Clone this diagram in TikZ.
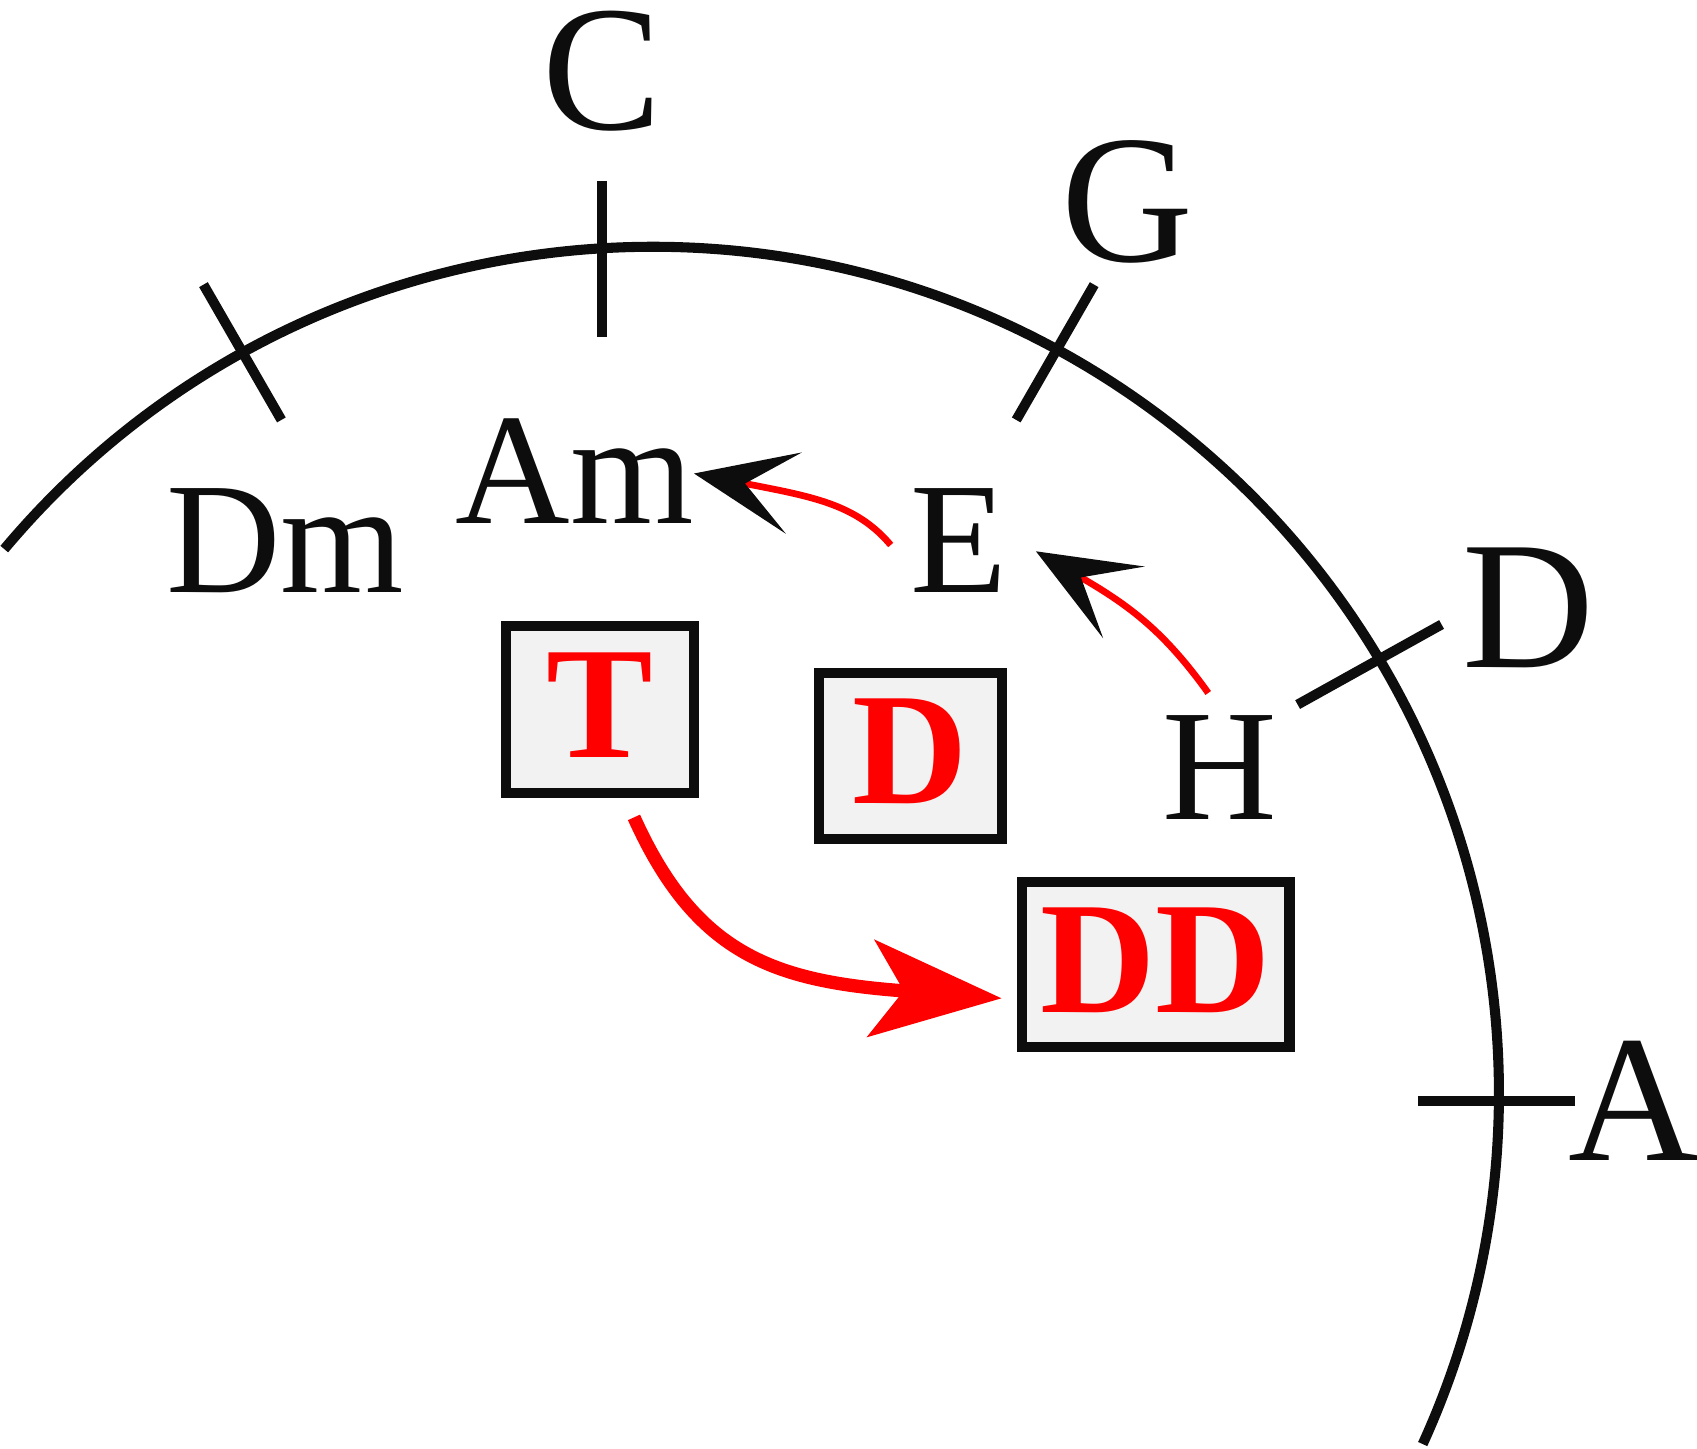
\documentclass[tikz,border=0pt]{standalone}
\usepackage{fontspec}
\setmainfont{Liberation Serif}
\usetikzlibrary{arrows.meta}
\definecolor{ink}{HTML}{0D0D0D}
\definecolor{hred}{HTML}{FF0000}
\definecolor{boxfill}{HTML}{F2F2F2}
\begin{document}
\begin{tikzpicture}[x=0.01cm, y=-0.01cm,
  chordsmall/.style={font=\fontsize{41.7}{50}\selectfont, text=ink, inner sep=0pt, outer sep=0pt, anchor=base},
  chordbig/.style={font=\fontsize{48}{58}\selectfont, text=ink, inner sep=0pt, outer sep=0pt, anchor=base},
  fnbox/.style={draw=ink, line width=0.095cm, fill=boxfill, inner sep=0pt, outer sep=0pt, text=hred, font=\bfseries\fontsize{42}{50}\selectfont, text depth=0.08cm},
  circ/.style={draw=ink, line width=0.093cm},
  tickmark/.style={draw=ink, line width=0.092cm},
  thinarrow/.style={draw=hred, line width=0.062cm, -{Stealth[length=0.94cm, width=0.766cm, inset=0.46cm, line width=0pt, color=ink]}},
  thickarrow/.style={draw=hred, line width=0.123cm, -{Stealth[length=1.215cm, width=0.908cm, inset=0.31cm, line width=0pt, color=hred]}},
]
\useasboundingbox (0,0) rectangle (1568,1338);

% circle of fifths arc
\draw[circ] (603,1010) ++(-140:782) arc[start angle=-140, end angle=24.5, radius=782];

% ticks
\draw[tickmark] (556,167) -- (556,311);
\draw[tickmark] (1011,263) -- (939,388);
\draw[tickmark] (188,263) -- (260,388);
\draw[tickmark] (1332,577) -- (1199,651);
\draw[tickmark] (1310,1017) -- (1455,1017);

% chord labels
\node[chordbig, font=\fontsize{47}{56}\selectfont] (C) at (556,120) {C};
\node[chordbig] (G) at (1041.5,241.6) {G};
\node[chordbig] (Dr) at (1412.5,617) {D};
\node[chordbig, font=\fontsize{47.5}{57}\selectfont] (Ar) at (1509.5,1072) {A};
\node[chordsmall] (Dm) at (263.5,547) {Dm};
\node[chordsmall] (Am) at (531,484) {Am};
\node[chordsmall] (E) at (886.5,547) {E};
\node[chordsmall] (H) at (1127,757) {H};

% function boxes
\node[fnbox, minimum width=1.74cm, minimum height=1.54cm] (T) at (554.5,655.5) {T};
\node[fnbox, minimum width=1.69cm, minimum height=1.53cm] (Dbox) at (841.4,698.4) {D};
\node[fnbox, minimum width=2.47cm, minimum height=1.52cm] (DD) at (1068,891.3) {DD};

% arrows
\draw[thinarrow] ([shift={(-18.7,4.6)}]E.west) .. controls +(-32.1,-38.3) and +(107.9,21.2) .. ([shift={(0.3,1.9)}]Am.east);
\draw[thinarrow] ([shift={(-10.6,-20.7)}]H.north) .. controls +(-40.6,-56.7) and +(86.5,50.2) .. ([shift={(25.9,10.4)}]E.east);
\draw[thickarrow] ([shift={(31.3,22.7)}]T.south) .. controls +(57.4,127.4) and +(-209.4,-15.9) .. ([shift={(-19.1,31.1)}]DD.west);
\end{tikzpicture}
\end{document}
